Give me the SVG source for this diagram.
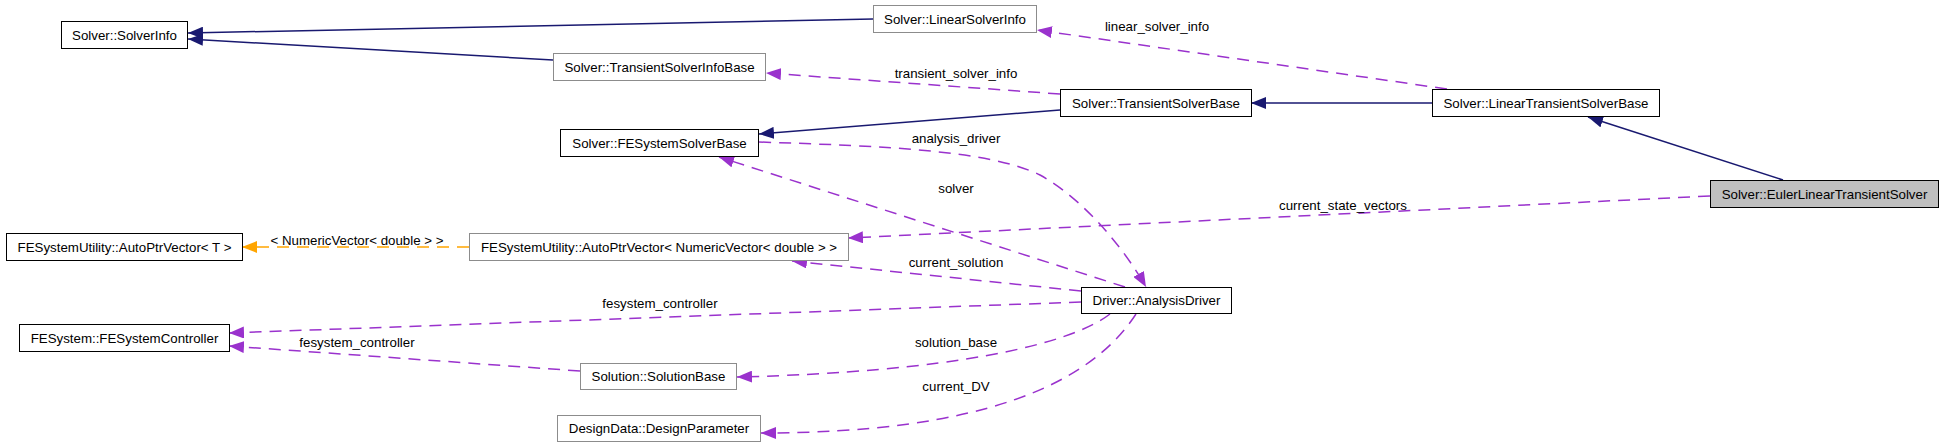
<svg xmlns="http://www.w3.org/2000/svg" width="1944" height="448" viewBox="0 0 1944 448">
<style>
text{font-family:"Liberation Sans",Arial,sans-serif;font-size:13.3px;fill:#000;text-anchor:middle}
.n{fill:#fff;stroke:#000;stroke-width:1}
.g{fill:#fff;stroke:#8c8c8c;stroke-width:1}
.cur{fill:#bfbfbf;stroke:#000;stroke-width:1}
.inh{fill:none;stroke:#191970;stroke-width:1.5}
.use{fill:none;stroke:#9a32cd;stroke-width:1.5;stroke-dasharray:12,8}
.tpl{fill:none;stroke:#ffa500;stroke-width:1.5;stroke-dasharray:12,8}
</style>
<defs>
<marker id="ai" markerUnits="userSpaceOnUse" markerWidth="16" markerHeight="12" refX="15" refY="6" orient="auto"><path d="M0,0 L15,6 L0,12 z" fill="#191970"/></marker>
<marker id="au" markerUnits="userSpaceOnUse" markerWidth="16" markerHeight="12" refX="15" refY="6" orient="auto"><path d="M0,0 L15,6 L0,12 z" fill="#9a32cd"/></marker>
<marker id="at" markerUnits="userSpaceOnUse" markerWidth="16" markerHeight="12" refX="15" refY="6" orient="auto"><path d="M0,0 L15,6 L0,12 z" fill="#ffa500"/></marker>
</defs>
<g id="connectors">
<path class="inh" d="M873,19 L188,33" marker-end="url(#ai)"/>
<path class="inh" d="M553,60 L188,39" marker-end="url(#ai)"/>
<path class="inh" d="M1432,103 L1251,103" marker-end="url(#ai)"/>
<path class="inh" d="M1060,110 L759,134" marker-end="url(#ai)"/>
<path class="inh" d="M1783,180 L1588,117" marker-end="url(#ai)"/>
<path class="use" d="M1447,89 L1037,30" marker-end="url(#au)"/>
<text x="1157" y="31">linear_solver_info</text>
<path class="use" d="M1060,94 L766,73" marker-end="url(#au)"/>
<text x="956" y="78">transient_solver_info</text>
<path class="use" d="M759,142 C880,146 990,150 1040,175 C1085,200 1125,250 1146,287" marker-end="url(#au)"/>
<text x="956" y="143">analysis_driver</text>
<path class="use" d="M1125,287 L719,157" marker-end="url(#au)"/>
<text x="956" y="193">solver</text>
<path class="use" d="M1710,196 L848,238" marker-end="url(#au)"/>
<text x="1343" y="210">current_state_vectors</text>
<path class="use" d="M1081,291 L792,261" marker-end="url(#au)"/>
<text x="956" y="267">current_solution</text>
<path class="use" d="M1081,302 L229,333" marker-end="url(#au)"/>
<text x="660" y="308">fesystem_controller</text>
<path class="use" d="M580,371 L229,346" marker-end="url(#au)"/>
<text x="357" y="347">fesystem_controller</text>
<path class="use" d="M1110,314 C1070,345 950,372 737,377" marker-end="url(#au)"/>
<text x="956" y="347">solution_base</text>
<path class="use" d="M1136,314 C1090,385 980,433 761,433" marker-end="url(#au)"/>
<text x="956" y="391">current_DV</text>
<path class="tpl" d="M469,247 L242,247" marker-end="url(#at)"/>
<text x="357" y="245">&lt; NumericVector&lt; double &gt; &gt;</text>
</g>
<g id="n1"><rect class="n" x="61.5" y="21.5" width="126" height="27"/><text x="124.5" y="40">Solver::SolverInfo</text></g>
<g id="n2"><rect class="g" x="873.5" y="5.5" width="163" height="27"/><text x="955" y="24">Solver::LinearSolverInfo</text></g>
<g id="n3"><rect class="g" x="553.5" y="53.5" width="212" height="27"/><text x="659.5" y="72">Solver::TransientSolverInfoBase</text></g>
<g id="n4"><rect class="n" x="1060.5" y="89.5" width="191" height="27"/><text x="1156" y="108">Solver::TransientSolverBase</text></g>
<g id="n5"><rect class="n" x="1432.5" y="89.5" width="227" height="27"/><text x="1546" y="108">Solver::LinearTransientSolverBase</text></g>
<g id="n6"><rect class="cur" x="1710.5" y="180.5" width="228" height="27"/><text x="1824.5" y="199">Solver::EulerLinearTransientSolver</text></g>
<g id="n7"><rect class="n" x="560.5" y="129.5" width="198" height="27"/><text x="659.5" y="148">Solver::FESystemSolverBase</text></g>
<g id="n8"><rect class="n" x="6.5" y="233.5" width="236" height="27"/><text x="124.5" y="252">FESystemUtility::AutoPtrVector&lt; T &gt;</text></g>
<g id="n9"><rect class="g" x="469.5" y="233.5" width="379" height="27"/><text x="659" y="252">FESystemUtility::AutoPtrVector&lt; NumericVector&lt; double &gt; &gt;</text></g>
<g id="n10"><rect class="n" x="1081.5" y="287.5" width="150" height="26"/><text x="1156.5" y="305">Driver::AnalysisDriver</text></g>
<g id="n11"><rect class="n" x="19.5" y="324.5" width="210" height="27"/><text x="124.5" y="343">FESystem::FESystemController</text></g>
<g id="n12"><rect class="g" x="580.5" y="363.5" width="156" height="26"/><text x="658.5" y="381">Solution::SolutionBase</text></g>
<g id="n13"><rect class="g" x="557.5" y="415.5" width="203" height="26"/><text x="659" y="433">DesignData::DesignParameter</text></g>
</svg>
